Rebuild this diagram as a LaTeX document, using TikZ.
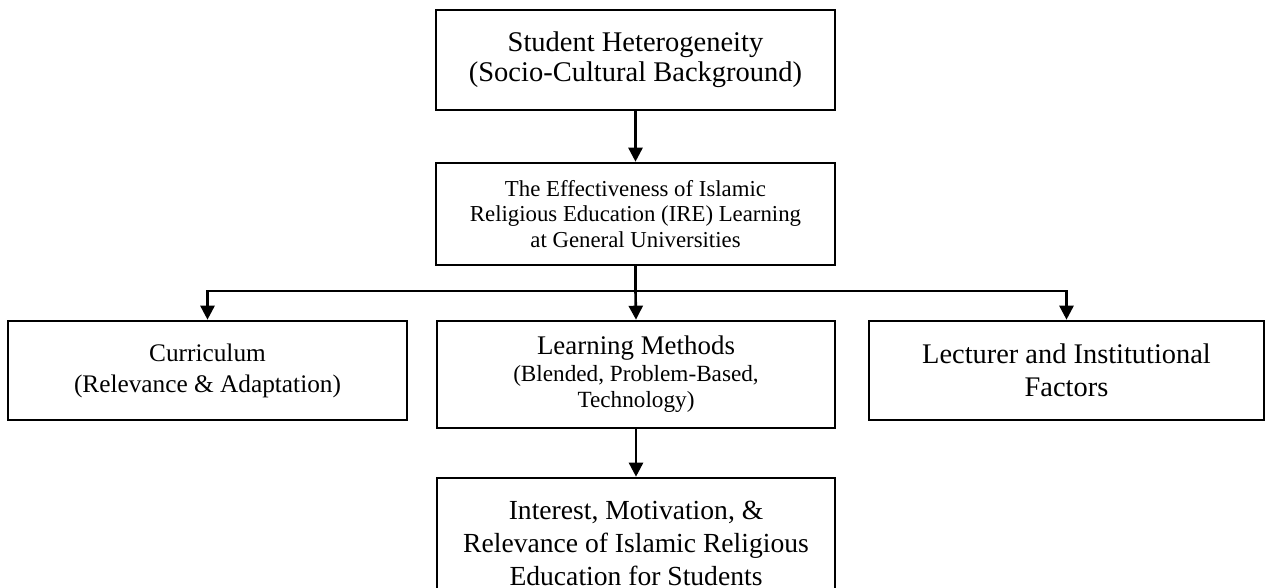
\documentclass[tikz,border=0pt]{standalone}
\usepackage{fontspec}
\setmainfont{Liberation Serif}
\usetikzlibrary{arrows.meta}

\tikzstyle{every node}=[font=\fontsize{25.3pt}{31pt}\selectfont]
\tikzstyle{box}=[draw, line width=2.6pt, align=center, inner sep=0pt]
\tikzstyle{arrow}=[line width=2.6pt, -{Triangle[width=14pt,length=14pt]}]
\newcommand{\smtext}{\fontsize{22.8pt}{25.5pt}\selectfont}
\newcommand{\midtext}{\fontsize{23.2pt}{26.5pt}\selectfont}
\newcommand{\bigtext}{\fontsize{28.4pt}{33pt}\selectfont}

\begin{document}
\begin{tikzpicture}[x=1pt, y=-1pt]
		            % Rámec obrázku
		            \useasboundingbox (0,0) rectangle (1266,588);

		            % Bloky
		            \node[box, font=\fontsize{28.5pt}{30pt}\selectfont, minimum width=399, minimum height=100] (hetero) at (635.5,60)
		                {Student Heterogeneity\\(Socio-Cultural Background)};
		            \node[box, font=\smtext, minimum width=399, minimum height=102] (effect) at (635.5,214)
		                {The Effectiveness of Islamic\\Religious Education (IRE) Learning\\at General Universities};

		            % Tři faktory
		            \node[box, minimum width=399, minimum height=99] (curric) at (207.5,370.5)
		                {Curriculum\\(Relevance \& Adaptation)};
		            \node[box, font=\midtext, minimum width=398, minimum height=107] (method) at (636,374.5)
		                {\fontsize{26.9pt}{26.5pt}\selectfont Learning Methods\\(Blended, Problem-Based,\\Technology)};
		            \node[box, font=\bigtext, minimum width=395, minimum height=99] (lecturer) at (1066.5,370.5)
		                {Lecturer and Institutional\\Factors};

		            % Výsledek
		            \node[box, font=\fontsize{27.6pt}{33pt}\selectfont, minimum width=398, minimum height=130] (interest) at (636,543)
		                {Interest, Motivation, \&\\Relevance of Islamic Religious\\Education for Students};

		            % Šipky
		            \coordinate (fork) at (635.5,291);
		            \draw[arrow] (hetero.south) -- (effect.north);
		            \draw[line width=2.6pt] (effect.south) -- (fork);
		            \draw[arrow] (fork) -| (curric.north);
		            \draw[arrow] (fork) -- (method.north);
		            \draw[arrow] (fork) -| (lecturer.north);
		            \draw[arrow] (method.south) -- (interest.north);
\end{tikzpicture}
\end{document}
